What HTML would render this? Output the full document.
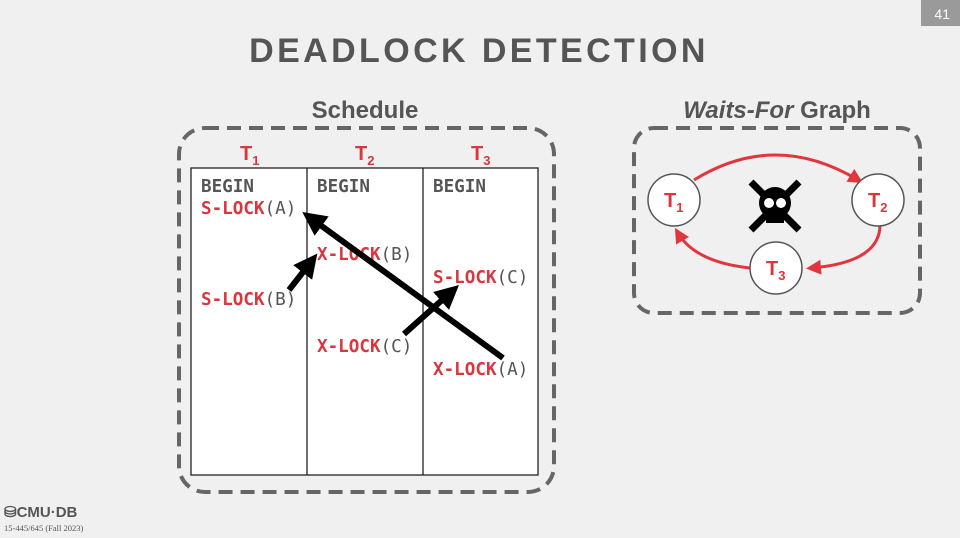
<!DOCTYPE html>
<html><head><meta charset="utf-8"><style>
html,body{margin:0;padding:0;background:#f0f0f0;}
svg{display:block}
.m{font-family:"DejaVu Sans Mono","Liberation Mono",monospace;font-size:17.6px;font-weight:bold}
.r{fill:#d9363e}.g{fill:#555}
</style></head><body>
<svg width="960" height="538" viewBox="0 0 960 538" xmlns="http://www.w3.org/2000/svg">
<defs>
<marker id="ka" markerWidth="4" markerHeight="4" refX="2" refY="2" orient="auto" markerUnits="strokeWidth"><path d="M0,0 L4,2 L0,4 z" fill="#000"/></marker>
<marker id="ra" markerWidth="5" markerHeight="5" refX="3" refY="2.5" orient="auto" markerUnits="strokeWidth"><path d="M0,0 L5,2.5 L0,5 z" fill="#e0363e"/></marker>
</defs>
<rect width="960" height="538" fill="#f0f0f0"/>
<rect x="921" y="0" width="39" height="26" fill="#9a9a9a"/>
<text x="950" y="19" fill="#fff" font-family="Liberation Sans,sans-serif" font-size="14" text-anchor="end">41</text>
<text x="479" y="62" text-anchor="middle" font-family="Liberation Sans,sans-serif" font-weight="bold" font-size="34" letter-spacing="3.4" fill="#555">DEADLOCK DETECTION</text>
<text x="365" y="118" text-anchor="middle" font-family="Liberation Sans,sans-serif" font-weight="bold" font-size="24" fill="#555">Schedule</text>
<text x="777" y="118" text-anchor="middle" font-family="Liberation Sans,sans-serif" font-weight="bold" font-size="24" fill="#555"><tspan font-style="italic">Waits-For</tspan> Graph</text>
<rect x="179" y="128" width="375" height="364" rx="26" fill="none" stroke="#666" stroke-width="4" stroke-dasharray="14 8"/>
<rect x="634" y="128" width="286" height="185" rx="20" fill="none" stroke="#666" stroke-width="4" stroke-dasharray="14 8"/>
<g font-family="Liberation Sans,sans-serif" font-weight="bold" fill="#d9363e">
<text x="240" y="160" font-size="20">T<tspan font-size="13" dy="5">1</tspan></text>
<text x="355" y="160" font-size="20">T<tspan font-size="13" dy="5">2</tspan></text>
<text x="471" y="160" font-size="20">T<tspan font-size="13" dy="5">3</tspan></text>
</g>
<rect x="191" y="168" width="347" height="307" fill="#fff" stroke="#222" stroke-width="1.3"/>
<line x1="307" y1="168" x2="307" y2="475" stroke="#222" stroke-width="1.3"/>
<line x1="423" y1="168" x2="423" y2="475" stroke="#222" stroke-width="1.3"/>
<g class="m">
<text x="201" y="192" class="g">BEGIN</text>
<text x="317" y="192" class="g">BEGIN</text>
<text x="433" y="192" class="g">BEGIN</text>
<text x="201" y="214"><tspan class="r">S-LOCK</tspan><tspan class="g" font-weight="normal">(A)</tspan></text>
<text x="317" y="260"><tspan class="r">X-LOCK</tspan><tspan class="g" font-weight="normal">(B)</tspan></text>
<text x="201" y="305"><tspan class="r">S-LOCK</tspan><tspan class="g" font-weight="normal">(B)</tspan></text>
<text x="433" y="283"><tspan class="r">S-LOCK</tspan><tspan class="g" font-weight="normal">(C)</tspan></text>
<text x="317" y="352"><tspan class="r">X-LOCK</tspan><tspan class="g" font-weight="normal">(C)</tspan></text>
<text x="433" y="375"><tspan class="r">X-LOCK</tspan><tspan class="g" font-weight="normal">(A)</tspan></text>
</g>
<line x1="503" y1="358" x2="312" y2="219" stroke="#000" stroke-width="6" marker-end="url(#ka)"/>
<line x1="289" y1="290" x2="310" y2="263" stroke="#000" stroke-width="6" marker-end="url(#ka)"/>
<line x1="404" y1="334" x2="450" y2="293" stroke="#000" stroke-width="6" marker-end="url(#ka)"/>
<g fill="none" stroke="#e0363e" stroke-width="3">
<path d="M694,180 Q775,130 858,180" marker-end="url(#ra)"/>
<path d="M880,225 Q880,262 812,268" marker-end="url(#ra)"/>
<path d="M750,268 Q695,262 678,233" marker-end="url(#ra)"/>
</g>
<g fill="#fff" stroke="#555" stroke-width="1.5">
<circle cx="674" cy="200" r="26"/><circle cx="878" cy="200" r="26"/><circle cx="776" cy="268" r="26"/>
</g>
<g font-family="Liberation Sans,sans-serif" font-weight="bold" fill="#d9363e" font-size="20">
<text x="664" y="207">T<tspan font-size="13" dy="5">1</tspan></text>
<text x="868" y="207">T<tspan font-size="13" dy="5">2</tspan></text>
<text x="766" y="275">T<tspan font-size="13" dy="5">3</tspan></text>
</g>
<g>
<line x1="751" y1="182" x2="799" y2="230" stroke="#000" stroke-width="7"/>
<line x1="799" y1="182" x2="751" y2="230" stroke="#000" stroke-width="7"/>
<circle cx="775" cy="203" r="16" fill="#000"/>
<rect x="766" y="212" width="18" height="11" fill="#000"/>
<circle cx="769" cy="203" r="5" fill="#fff"/><circle cx="781" cy="203" r="5" fill="#fff"/>
</g>
<text x="4" y="517" font-family="Liberation Sans,sans-serif" font-size="15" font-weight="bold" fill="#555">⛁CMU·DB</text>
<text x="4" y="531" font-family="Liberation Serif,serif" font-size="8.5" fill="#555">15-445/645 (Fall 2023)</text>
</svg>
</body></html>
